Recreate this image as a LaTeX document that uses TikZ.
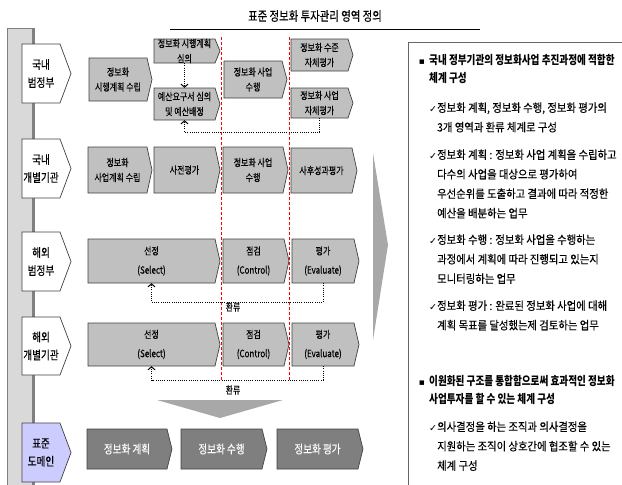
\documentclass[tikz,border=0pt]{standalone}
\usepackage{fontspec}
\setmainfont{Noto Sans CJK KR}[FakeStretch=0.8, UprightFeatures={FakeBold=0.25}]
\newfontfamily\krwide{Noto Sans CJK KR}[FakeStretch=0.9, FakeBold=0.25]
\newfontfamily\symf{DejaVu Sans}
\usetikzlibrary{arrows.meta}

\definecolor{boxg}{HTML}{C0C0C0}
\definecolor{boxd}{HTML}{7F7F7F}
\definecolor{lav}{HTML}{CCCCFF}
\definecolor{edgec}{HTML}{404040}
\definecolor{barg}{HTML}{D9D9D9}
\definecolor{arrg}{HTML}{A8A8A8}
\definecolor{sepred}{rgb}{1,0,0}

% #1 name, #2 x1, #3 x2, #4 y1, #5 y2, #6 tip, #7 shape style, #8 text style, #9 text
\newcommand\chevbox[9]{%
  \draw[#7] (#2,#4) -- (#3,#4) -- ({#3+#6},{(#4+#5)/2}) -- (#3,#5) -- (#2,#5) -- cycle;
  \node[#8, inner sep=0pt, minimum width={#3pt-#2pt}, minimum height={#5pt-#4pt}, align=center] (#1) at ({(#2+#3)/2},{(#4+#5)/2}) {#9};
}

\tikzset{
  labsh/.style={fill=white, draw=edgec, line width=0.7pt},
  stdsh/.style={fill=lav, draw=edgec, line width=0.7pt},
  lgsh/.style={fill=boxg, draw=edgec, line width=0.7pt},
  dksh/.style={fill=boxd, draw=edgec, line width=0.7pt},
  labt/.style={font=\fontsize{12}{18}\selectfont},
  bt/.style={font=\fontsize{10}{15}\selectfont},
  btw/.style={font=\fontsize{10}{19}\selectfont},
  dkt/.style={font=\fontsize{12}{15}\selectfont, text=white},
  fbline/.style={dash pattern=on 1pt off 1.2pt, line width=1pt, -{Straight Barb[length=3pt,width=7pt]}},
  reddot/.style={fill=sepred, draw=none},
  hd/.style={font=\bfseries\fontsize{12}{18}\selectfont, align=left, anchor=base west, inner sep=0pt},
  ct/.style={font=\krwide\fontsize{11.5}{19.5}\selectfont, align=left, anchor=base west, inner sep=0pt},
  ck/.style={font=\symf\fontsize{9.5}{10}\selectfont, anchor=base west, inner sep=0pt},
  bul/.style={font=\symf\fontsize{9}{10}\selectfont, anchor=base, inner sep=0pt},
  fbt/.style={font=\fontsize{10}{12}\selectfont, inner sep=0pt}
}

\begin{document}
\begin{tikzpicture}[x=1pt,y=-1pt]
\useasboundingbox (0,0) rectangle (622,485);

% title
\node[font=\fontsize{13}{15}\selectfont] (title) at (315,16) {표준 정보화 투자관리 영역 정의};
\draw[line width=0.8pt] (170,29) -- (480,29);

% left bar
\draw[fill=barg, draw=gray, line width=0.6pt] (7,28) rectangle (34,490);
\fill[gray] (32,28) rectangle (34.5,490);

% left labels
\chevbox{L1}{22}{60}{44}{103}{11}{labsh}{labt}{국내\\범정부}
\chevbox{L2}{22}{60}{139}{198}{11}{labsh}{labt}{국내\\개별기관}
\chevbox{L3}{22}{60}{232}{291}{11}{labsh}{labt}{해외\\범정부}
\chevbox{L4}{22}{60}{317}{375}{11}{labsh}{labt}{해외\\개별기관}
\chevbox{L5}{22}{60}{423}{482}{11}{stdsh}{labt}{표준\\도메인}

% red dashed separators (filled dashes)
\foreach \yy in {37,42,...,380} {
  \fill[reddot] (220.5,\yy) rectangle (221.5,\yy+3);
  \fill[reddot] (288.5,\yy) rectangle (289.5,\yy+3);
}

% row 1
\chevbox{A1}{89}{147}{58}{101}{5}{lgsh}{bt}{정보화\\시행계획 수립}
\chevbox{A2}{154}{215}{39}{63}{5}{lgsh}{bt}{정보화 시행계획\\심의}
\chevbox{A3}{154}{215}{88}{120}{5}{lgsh}{bt}{예산요구서 심의\\및 예산배정}
\chevbox{A4}{224}{282}{61}{98}{5}{lgsh}{bt}{정보화 사업\\수행}
\chevbox{A5}{291}{348}{39}{71}{5}{lgsh}{bt}{정보화 수준\\자체평가}
\chevbox{A6}{291}{348}{88}{118}{5}{lgsh}{bt}{정보화 사업\\자체평가}

% row 2
\chevbox{B1}{88}{147}{147}{193}{5}{lgsh}{bt}{정보화\\사업계획 수립}
\chevbox{B2}{154}{215}{147}{193}{5}{lgsh}{bt}{사전평가}
\chevbox{B3}{223}{283}{147}{193}{5}{lgsh}{bt}{정보화 사업\\수행}
\chevbox{B4}{291}{352}{148}{193}{5}{lgsh}{bt}{사후성과평가}

% row 3
\chevbox{C1}{88}{215}{239}{283}{5}{lgsh}{btw}{선정\\(Select)}
\chevbox{C2}{223}{284}{239}{283}{5}{lgsh}{btw}{점검\\(Control)}
\chevbox{C3}{292}{354}{239}{283}{5}{lgsh}{btw}{평가\\(Evaluate)}

% row 4
\chevbox{D1}{88}{215}{323}{366}{5}{lgsh}{btw}{선정\\(Select)}
\chevbox{D2}{223}{284}{323}{366}{5}{lgsh}{btw}{점검\\(Control)}
\chevbox{D3}{292}{354}{323}{366}{5}{lgsh}{btw}{평가\\(Evaluate)}

% row 5
\chevbox{E1}{87}{167}{429}{469}{5}{dksh}{dkt}{정보화 계획}
\chevbox{E2}{181}{262}{429}{469}{5}{dksh}{dkt}{정보화 수행}
\chevbox{E3}{277}{358}{429}{469}{5}{dksh}{dkt}{정보화 평가}

% dotted connectors
\draw[fbline] (A2.south) -- (A3.north);
\draw[fbline] (A6.south) -- ++(0,14) -| (A3.south);
\draw[fbline] (C3.south) -- ++(0,19) -| (C1.south);
\draw[fbline] (D3.south) -- ++(0,14) -| (D1.south);
\node[fbt] (R1) at (233,307) {환류};
\node[fbt] (R2) at (233,390) {환류};

% big arrows
\fill[arrg] (157,400) -- (283,400) -- (220,418) -- cycle;
\fill[arrg] (373,153) -- (388,245) -- (373,340) -- cycle;

% right text box
\draw[draw=gray!80!black, line width=0.8pt] (408,42) rectangle (640,500);

% (multi-line nodes: base anchor = baseline of last line)
\node[bul] (u1) at (422,64) {▪};
\node[hd] (h1) at (429,82.5) {국내 정부기관의 정보화사업 추진과정에 적합한\\체계 구성};
\node[ck] (k1) at (429,112) {✓};
\node[ct] (t1) at (437,131.5) {정보화 계획, 정보화 수행, 정보화 평가의\\3개 영역과 환류 체계로 구성};
\node[ck] (k2) at (429,159) {✓};
\node[ct] (t2) at (437,217.5) {정보화 계획 : 정보화 사업 계획을 수립하고\\다수의 사업을 대상으로 평가하여\\우선순위를 도출하고 결과에 따라 적정한\\예산을 배분하는 업무};
\node[ck] (k3) at (429,244) {✓};
\node[ct] (t3) at (437,283) {정보화 수행 : 정보화 사업을 수행하는\\과정에서 계획에 따라 진행되고 있는지\\모니터링하는 업무};
\node[ck] (k4) at (429,310) {✓};
\node[ct] (t4) at (437,329.5) {정보화 평가 : 완료된 정보화 사업에 대해\\계획 목표를 달성했는제 검토하는 업무};
\node[bul] (u2) at (422,385.5) {▪};
\node[hd] (h2) at (429,403.5) {이원화된 구조를 통합함으로써 효과적인 정보화\\사업투자를 할 수 있는 체계 구성};
\node[ck] (k5) at (429,431) {✓};
\node[ct] (t5) at (437,470) {의사결정을 하는 조직과 의사결정을\\지원하는 조직이 상호간에 협조할 수 있는\\체계 구성};
\end{tikzpicture}
\end{document}
